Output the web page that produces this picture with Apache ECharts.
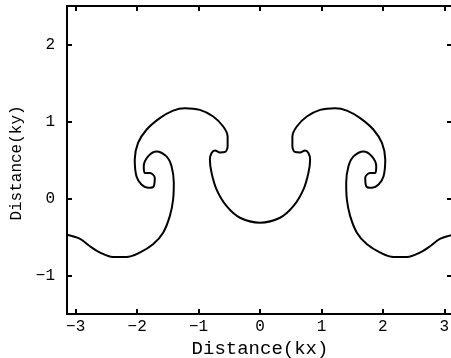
<!DOCTYPE html>
<html>
<head>
<meta charset="utf-8">
<script src="https://cdn.jsdelivr.net/npm/echarts@6/dist/echarts.min.js"></script>
<style>
  html, body { margin: 0; padding: 0; background: #ffffff; }
  #chart { width: 451px; height: 358px; }
</style>
</head>
<body>
<div id="chart"></div>
<script>
// Tick positions for the two axes
const xTicks = [-3, -2, -1, 0, 1, 2, 3];
const yTicks = [-1, 0, 1, 2];

// Interface position (kx, ky), traced from left edge to right edge
const interfaceX = [
  -3.142, -2.936, -2.773, -2.610, -2.393, -2.175, -1.958, -1.741, -1.577, -1.468,
  -1.414, -1.403, -1.440, -1.522, -1.685, -1.822, -1.892, -1.876, -1.794, -1.713,
  -1.729, -1.822, -1.930, -2.011, -2.039, -1.985, -1.848, -1.631, -1.414, -1.223,
  -0.979, -0.762, -0.599, -0.527, -0.527, -0.571, -0.653, -0.734, -0.788, -0.816,
  -0.788, -0.706, -0.543, -0.326, 0.000,
  0.326, 0.543, 0.706, 0.788, 0.816, 0.788, 0.734, 0.653, 0.571, 0.527,
  0.527, 0.599, 0.762, 0.979, 1.223, 1.414, 1.631, 1.848, 1.985, 2.039,
  2.011, 1.930, 1.822, 1.729, 1.713, 1.794, 1.876, 1.892, 1.822, 1.685,
  1.522, 1.440, 1.403, 1.414, 1.468, 1.577, 1.741, 1.958, 2.175, 2.393,
  2.610, 2.773, 2.936, 3.142
];
const interfaceY = [
  -0.470, -0.521, -0.617, -0.700, -0.759, -0.759, -0.702, -0.595, -0.444, -0.229,
  -0.013, 0.203, 0.418, 0.547, 0.612, 0.547, 0.418, 0.332, 0.332, 0.268,
  0.159, 0.138, 0.181, 0.288, 0.505, 0.721, 0.893, 1.044, 1.142, 1.173,
  1.151, 1.065, 0.935, 0.806, 0.677, 0.604, 0.599, 0.625, 0.591, 0.505,
  0.332, 0.116, -0.100, -0.250, -0.314,
  -0.250, -0.100, 0.116, 0.332, 0.505, 0.591, 0.625, 0.599, 0.604, 0.677,
  0.806, 0.935, 1.065, 1.151, 1.173, 1.142, 1.044, 0.893, 0.721, 0.505,
  0.288, 0.181, 0.138, 0.159, 0.268, 0.332, 0.332, 0.418, 0.547, 0.612,
  0.547, 0.418, 0.203, -0.013, -0.229, -0.444, -0.595, -0.702, -0.759, -0.759,
  -0.700, -0.617, -0.521, -0.470
];

const points = interfaceX.map((x, i) => [x, interfaceY[i]]);

const labelFont = 'Liberation Mono';
const fmt = v => (v < 0 ? '\u2212' + Math.abs(v) : String(v));

const frameLine = { show: true, onZero: false, lineStyle: { color: '#000', width: 2 } };

const chart = echarts.init(document.getElementById('chart'), null, { renderer: 'canvas' });
chart.setOption({
  backgroundColor: '#ffffff',
  animation: false,
  grid: { left: 67, right: -2, top: 6, bottom: 44, containLabel: false, outerBoundsMode: 'none' },
  xAxis: [
    {
      type: 'value', position: 'bottom', min: -Math.PI, max: Math.PI,
      axisLine: frameLine,
      axisTick: { show: true, inside: true, length: 5, customValues: xTicks, lineStyle: { color: '#000', width: 2 } },
      axisLabel: { customValues: xTicks, formatter: fmt, color: '#000', fontFamily: labelFont, fontSize: 16, margin: 5 },
      splitLine: { show: false },
      name: 'Distance(kx)', nameLocation: 'middle', nameGap: 18,
      nameTextStyle: { color: '#000', fontFamily: labelFont, fontSize: 19 }
    },
    {
      type: 'value', position: 'top', min: -Math.PI, max: Math.PI,
      axisLine: frameLine,
      axisTick: { show: true, inside: true, length: 5, customValues: xTicks, lineStyle: { color: '#000', width: 2 } },
      axisLabel: { show: false },
      splitLine: { show: false }
    }
  ],
  yAxis: [
    {
      type: 'value', position: 'left', min: -1.5, max: 2.5,
      axisLine: frameLine,
      axisTick: { show: true, inside: true, length: 5, customValues: yTicks, lineStyle: { color: '#000', width: 2 } },
      axisLabel: { customValues: yTicks, formatter: fmt, color: '#000', fontFamily: labelFont, fontSize: 16, margin: 12 },
      splitLine: { show: false },
      name: 'Distance(ky)', nameLocation: 'middle', nameGap: 40, nameRotate: 90,
      nameTextStyle: { color: '#000', fontFamily: labelFont, fontSize: 16, padding: [0, 0, 0, -6] }
    },
    {
      type: 'value', position: 'right', min: -1.5, max: 2.5,
      axisLine: frameLine,
      axisTick: { show: true, inside: true, length: 6, customValues: yTicks, lineStyle: { color: '#000', width: 2 } },
      axisLabel: { show: false },
      splitLine: { show: false }
    }
  ],
  series: [{
    type: 'line',
    xAxisIndex: 0,
    yAxisIndex: 0,
    data: points,
    showSymbol: false,
    smooth: 0.35,
    clip: true,
    lineStyle: { color: '#000', width: 2 }
  }]
});
</script>
</body>
</html>
